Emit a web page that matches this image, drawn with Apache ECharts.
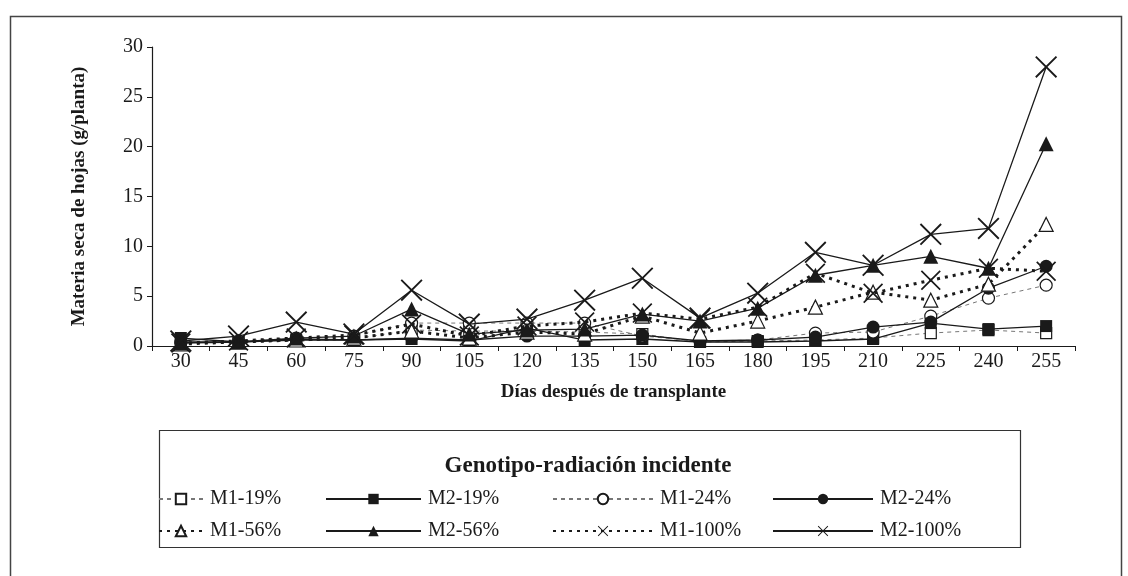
<!DOCTYPE html>
<html>
<head>
<meta charset="utf-8">
<script src="https://cdn.jsdelivr.net/npm/echarts@6/dist/echarts.min.js"></script>
<style>html,body{margin:0;padding:0;background:#fff}#c{width:1128px;height:576px}</style>
</head>
<body>
<div id="c"></div>
<script>
const categories = ['30','45','60','75','90','105','120','135','150','165','180','195','210','225','240','255'];
const yTicks = [0, 5, 10, 15, 20, 25, 30];
const seriesNames = ['M1-19%','M2-19%','M1-24%','M2-24%','M1-56%','M2-56%','M1-100%','M2-100%'];
const m1_19  = [0.3,0.4,0.5,0.7,1.6,1.5,1.5,1.4,1.2,0.4,0.5,0.6,0.8,1.3,1.6,1.3];
const m2_19  = [0.8,0.4,0.6,0.6,0.7,0.5,1.8,0.6,0.7,0.4,0.4,0.5,0.7,2.3,1.7,2.0];
const m1_24  = [0.3,0.5,0.8,1.0,2.3,2.3,2.3,2.3,1.0,0.5,0.6,1.3,1.4,3.0,4.8,6.1];
const m2_24  = [0.4,0.4,0.7,0.6,0.8,0.6,1.0,1.0,1.1,0.5,0.6,0.9,1.9,2.4,5.8,8.0];
const m1_56  = [0.2,0.4,0.6,0.8,1.5,0.8,1.4,1.2,3.0,1.3,2.5,3.9,5.4,4.6,6.2,12.2];
const m2_56  = [0.3,0.4,0.8,1.0,3.7,1.2,1.6,1.7,3.2,2.5,3.8,7.1,8.1,9.0,7.8,20.3];
const m1_100 = [0.3,0.5,0.8,1.1,2.2,1.0,2.0,2.4,3.3,2.7,3.9,7.3,5.3,6.6,7.8,7.5];
const m2_100 = [0.5,1.0,2.4,1.2,5.6,2.2,2.7,4.6,6.8,2.8,5.3,9.4,8.1,11.2,11.8,28.0];
const seriesValues = [m1_19, m2_19, m1_24, m2_24, m1_56, m2_56, m1_100, m2_100];

const FONT = 'Liberation Serif';
const INK = '#1a1a1a';
const XPATH = 'path://M0,1.2L1.2,0L20,18.8L18.8,20Z M18.8,0L20,1.2L1.2,20L0,18.8Z';

const styles = [
  {symbol:'rect', size:11, fill:'#fff', line:{color:'#777', width:1, type:[4,4]}},
  {symbol:'rect', size:12, fill:INK, line:{color:INK, width:1.3, type:'solid'}},
  {symbol:'circle', size:12, fill:'#fff', line:{color:'#777', width:1, type:[4,4]}},
  {symbol:'circle', size:13, fill:INK, line:{color:INK, width:1.3, type:'solid'}},
  {symbol:'triangle', size:14, fill:'#fff', line:{color:INK, width:3, type:[3,5]}},
  {symbol:'triangle', size:15, fill:INK, line:{color:INK, width:1.3, type:'solid'}},
  {symbol:XPATH, size:20, fill:INK, line:{color:INK, width:3, type:[3,5]}},
  {symbol:XPATH, size:22, fill:INK, line:{color:INK, width:1.3, type:'solid'}}
];

const series = seriesNames.map((name, i) => {
  const s = styles[i];
  const open = s.fill === '#fff';
  return {
    name: name,
    type: 'line',
    data: seriesValues[i],
    symbol: s.symbol,
    symbolSize: s.size,
    showAllSymbol: true,
    lineStyle: {color: s.line.color, width: s.line.width, type: s.line.type},
    itemStyle: {color: s.fill, borderColor: INK, borderWidth: open ? 1.2 : 0},
    emphasis: {disabled: true},
    z: 2 + i
  };
});

const legendCols = [
  {left: 158, names: [seriesNames[0], seriesNames[4]], w: 44},
  {left: 325, names: [seriesNames[1], seriesNames[5]], w: 95},
  {left: 552, names: [seriesNames[2], seriesNames[6]], w: 100},
  {left: 772, names: [seriesNames[3], seriesNames[7]], w: 100}
];
const legends = legendCols.map(c => ({
  left: c.left, top: 489, orient: 'vertical', itemGap: 12,
  itemWidth: c.w, itemHeight: 13, padding: 0,
  data: c.names, selectedMode: false,
  textStyle: {fontFamily: FONT, fontSize: 20, color: INK, padding: [0,0,0,2]}
}));

const chart = echarts.init(document.getElementById('c'), null, {renderer: 'canvas'});
chart.setOption({
  animation: false,
  backgroundColor: '#fff',
  grid: {left: 152, right: 53, top: 47, bottom: 230, containLabel: false},
  xAxis: {
    type: 'category', data: categories, boundaryGap: true,
    name: 'Días después de transplante', nameLocation: 'middle', nameGap: 37,
    nameTextStyle: {fontFamily: FONT, fontSize: 19, fontWeight: 'bold', color: INK},
    axisLine: {lineStyle: {color: INK, width: 1.2}},
    axisTick: {show: true, length: 5, lineStyle: {color: INK}},
    axisLabel: {fontFamily: FONT, fontSize: 20, color: INK, margin: 6, interval: 0},
    splitLine: {show: false}
  },
  yAxis: {
    type: 'value', min: yTicks[0], max: yTicks[yTicks.length-1], interval: 5,
    name: 'Materia seca de hojas (g/planta)', nameLocation: 'middle', nameGap: 63,
    nameTextStyle: {fontFamily: FONT, fontSize: 19, fontWeight: 'bold', color: INK},
    axisLine: {show: true, lineStyle: {color: INK, width: 1.2}},
    axisTick: {show: true, length: 5, lineStyle: {color: INK}},
    axisLabel: {fontFamily: FONT, fontSize: 20, color: INK, margin: 9},
    splitLine: {show: false}
  },
  legend: legends,
  graphic: [
    {type: 'rect', left: 8, top: 14, shape: {x: 0, y: 0, width: 1111, height: 600},
     style: {fill: 'none', stroke: '#444', lineWidth: 1.5}, silent: true},
    {type: 'rect', left: 157, top: 428, shape: {x: 0, y: 0, width: 861, height: 117},
     style: {fill: 'none', stroke: '#333', lineWidth: 1.2}, silent: true},
    {type: 'text', x: 588, y: 466,
     style: {text: 'Genotipo-radiación incidente', fontFamily: FONT, fontSize: 23, fontWeight: 'bold', fill: INK,
             textAlign: 'center', textVerticalAlign: 'middle'},
     silent: true}
  ],
  series: series
});
</script>
</body>
</html>
